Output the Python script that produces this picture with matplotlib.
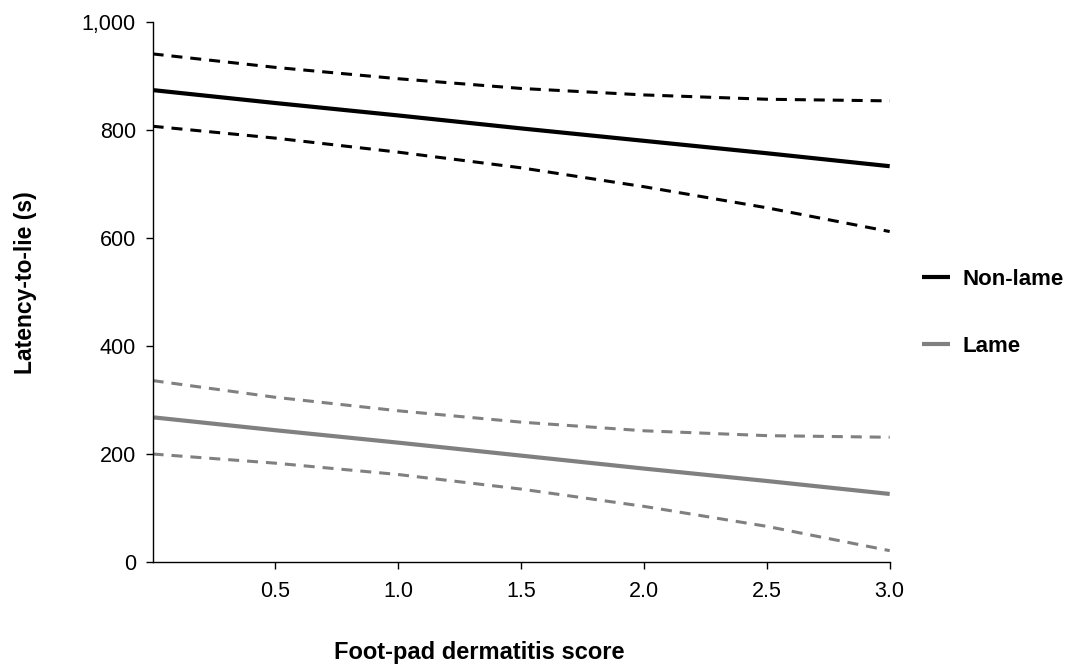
import matplotlib
matplotlib.use('Agg')
import matplotlib.pyplot as plt
import numpy as np

plt.rcParams['font.family'] = ['Liberation Sans', 'DejaVu Sans']

# foot-pad dermatitis score (x) and latency-to-lie predictions with 95% CI
score = [0.0, 0.5, 1.0, 1.5, 2.0, 2.5, 3.0]

nonlame_mean = [874, 850, 827, 803, 780, 757, 733]
nonlame_upper = [941, 916, 895, 877, 865, 857, 854]
nonlame_lower = [807, 785, 759, 730, 695, 656, 612]

lame_mean = [268, 244, 221, 197, 173, 150, 126]
lame_upper = [336, 305, 280, 259, 243, 234, 231]
lame_lower = [200, 183, 162, 135, 103, 66, 21]

x_ticks = [0.5, 1.0, 1.5, 2.0, 2.5, 3.0]
y_ticks = [0, 200, 400, 600, 800, 1000]

grey = '#808080'
dash = (0, (3.6, 2.6))

fig = plt.figure(figsize=(10.65, 6.68), dpi=100)
ax = fig.add_axes([0.1433, 0.1587, 0.6921, 0.8083])

ax.plot(score, nonlame_mean, color='black', lw=3, label='Non-lame', solid_capstyle='butt')
ax.plot(score, nonlame_upper, color='black', lw=2.2, linestyle=dash)
ax.plot(score, nonlame_lower, color='black', lw=2.2, linestyle=dash)

ax.plot(score, lame_mean, color=grey, lw=3, label='Lame', solid_capstyle='butt')
ax.plot(score, lame_upper, color=grey, lw=2.2, linestyle=dash)
ax.plot(score, lame_lower, color=grey, lw=2.2, linestyle=dash)

ax.set_xlim(0, 3.0)
ax.set_ylim(0, 1000)
ax.set_xticks(x_ticks)
ax.set_xticklabels(['{:.1f}'.format(v) for v in x_ticks])
ax.set_yticks(y_ticks)
ax.set_yticklabels(['{:,}'.format(v) for v in y_ticks])

ax.spines['top'].set_visible(False)
ax.spines['right'].set_visible(False)
for s in ['left', 'bottom']:
    ax.spines[s].set_linewidth(1.0)
ax.tick_params(axis='both', direction='out', length=5, width=1.0, labelsize=15.5)
ax.tick_params(axis='x', pad=9)
ax.tick_params(axis='y', pad=7)

ax.set_xlabel('Foot-pad dermatitis score', fontsize=17, fontweight='bold')
ax.xaxis.set_label_coords(0.443, -0.146)
ax.set_ylabel('Latency-to-lie (s)', fontsize=16.5, fontweight='bold')
ax.yaxis.set_label_coords(-0.157, 0.517)

leg = ax.legend(loc='upper left', bbox_to_anchor=(922 / 1065, 1 - 269 / 668),
                bbox_transform=fig.transFigure, frameon=False, fontsize=16,
                handlelength=1.26, handletextpad=0.55, labelspacing=2.08,
                borderpad=0, borderaxespad=0)
for t in leg.get_texts():
    t.set_fontweight('bold')

fig.savefig('out.png', dpi=100)
